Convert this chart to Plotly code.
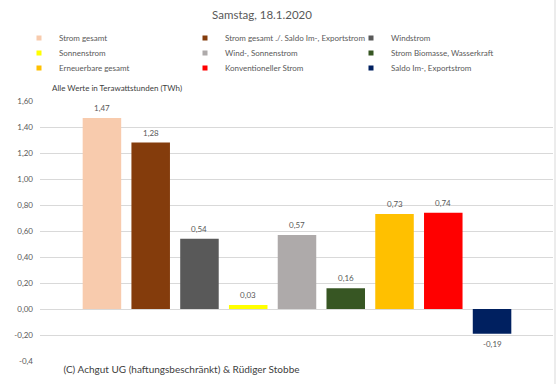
import plotly.graph_objects as go

categories = [
    "Strom gesamt",
    "Strom gesamt ./. Saldo Im-, Exportstrom",
    "Windstrom",
    "Sonnenstrom",
    "Wind-, Sonnenstrom",
    "Strom Biomasse, Wasserkraft",
    "Erneuerbare gesamt",
    "Konventioneller Strom",
    "Saldo Im-, Exportstrom",
]
values = [1.47, 1.28, 0.54, 0.03, 0.57, 0.16, 0.73, 0.74, -0.19]
value_labels = ["1,47", "1,28", "0,54", "0,03", "0,57", "0,16", "0,73", "0,74", "-0,19"]
colors = ["#F8CBAD", "#843C0C", "#595959", "#FFFF00", "#AEAAAA",
          "#375623", "#FFC000", "#FF0000", "#002060"]
tick_vals = [-0.4, -0.2, 0.0, 0.2, 0.4, 0.6, 0.8, 1.0, 1.2, 1.4, 1.6]
tick_labels = ["-0,4", "-0,20", "0,00", "0,20", "0,40", "0,60", "0,80",
               "1,00", "1,20", "1,40", "1,60"]

title_text = "Samstag, 18.1.2020"
unit_text = "Alle Werte in Terawattstunden (TWh)"
credit_text = "(C) Achgut UG (haftungsbeschränkt) &amp; Rüdiger Stobbe"

FONT = "Lato"
W, H = 556, 384
ML, MR, MT, MB = 40, 3, 101, 23
PW = W - ML - MR
PH = H - MT - MB

fig = go.Figure()
for i, (c, v, col) in enumerate(zip(categories, values, colors)):
    fig.add_trace(go.Bar(x=[c], y=[v], marker=dict(color=col, line=dict(width=0)),
                         width=0.79, showlegend=False, hoverinfo="skip"))

legend_names = ["legend", "legend2", "legend3"]
for i, (c, col) in enumerate(zip(categories, colors)):
    fig.add_trace(go.Scatter(x=[None], y=[None], mode="markers", name=c,
                             marker=dict(symbol="square", size=5, color=col),
                             legend=legend_names[i // 3], showlegend=True))

for c, v, lab in zip(categories, values, value_labels):
    fig.add_annotation(x=c, y=v, text=lab, showarrow=False,
                       yshift=10 if v >= 0 else -10,
                       font=dict(family=FONT, size=8, color="#595959"))

def px_x(px):
    return (px - ML) / PW

def px_y(py):
    return (H - MB - py) / PH

# unit caption
fig.add_annotation(xref="paper", yref="paper", x=px_x(50), y=px_y(88),
                   xanchor="left", yanchor="middle", text=unit_text, showarrow=False,
                   font=dict(family=FONT, size=8, color="#404040"))
# credit box
fig.add_annotation(xref="paper", yref="paper", x=px_x(181.5), y=px_y(369),
                   xanchor="center", yanchor="middle", text=credit_text, showarrow=False,
                   width=283, height=28, bgcolor="white", borderpad=0,
                   font=dict(family=FONT, size=10, color="#404040"))
# right border
fig.add_shape(type="line", xref="paper", yref="paper", x0=px_x(555), x1=px_x(555),
              y0=px_y(0), y1=px_y(H), line=dict(color="#D9D9D9", width=1))

leg_common = dict(orientation="h", xref="container", yref="container",
                  xanchor="left", yanchor="middle", entrywidth=121, entrywidthmode="pixels",
                  font=dict(family=FONT, size=8, color="#595959"),
                  bgcolor="rgba(0,0,0,0)", itemclick=False, itemdoubleclick=False)
rows_y = [38, 53, 68]
LX = 19 / W
fig.update_layout(
    width=W, height=H,
    margin=dict(l=ML, r=MR, t=MT, b=MB),
    paper_bgcolor="white", plot_bgcolor="white",
    barmode="overlay",
    title=dict(text=title_text, x=262 / W, xref="container", xanchor="center",
               y=1 - 15 / H, yref="container", yanchor="middle",
               font=dict(family=FONT, size=11.5, color="#595959")),
    legend=dict(**leg_common, x=LX, y=1 - rows_y[0] / H),
    legend2=dict(**leg_common, x=LX, y=1 - rows_y[1] / H),
    legend3=dict(**leg_common, x=LX, y=1 - rows_y[2] / H),
    xaxis=dict(type="category", categoryorder="array", categoryarray=categories,
               range=[-1.27, 9.25], showticklabels=False, showgrid=False,
               zeroline=False, showline=False, ticks=""),
    yaxis=dict(range=[-0.4, 1.6], tickvals=tick_vals, ticktext=tick_labels,
               showgrid=True, gridcolor="#D9D9D9", gridwidth=1,
               zeroline=True, zerolinecolor="#D9D9D9", zerolinewidth=1,
               showline=False, ticks="", ticklabelstandoff=6,
               tickfont=dict(family=FONT, size=8, color="#595959")),
)

fig.write_html("out.html", config={"displayModeBar": False, "staticPlot": True},
               post_script="document.body.style.margin='0px';")
